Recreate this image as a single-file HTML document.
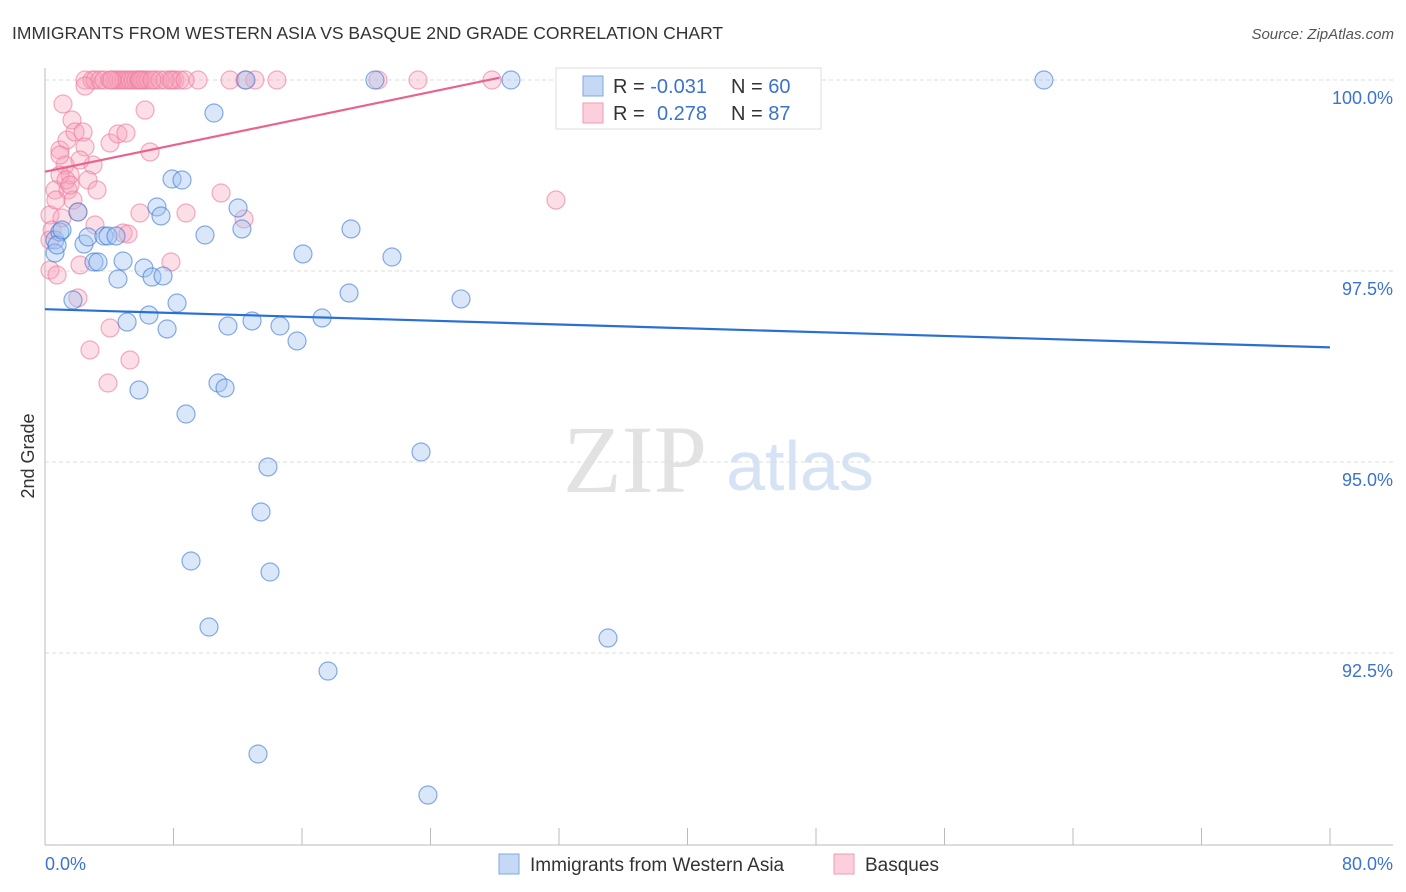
<!DOCTYPE html>
<html><head><meta charset="utf-8"><style>
body{margin:0;background:#fff;font-family:"Liberation Sans",sans-serif;}
svg{display:block}
</style></head><body>
<svg width="1406" height="892">
<text x="12" y="39" font-size="17.5" fill="#333">IMMIGRANTS FROM WESTERN ASIA VS BASQUE 2ND GRADE CORRELATION CHART</text>
<text x="1394" y="39" font-size="15" fill="#555" font-style="italic" text-anchor="end">Source: ZipAtlas.com</text>
<text x="635" y="492" font-size="96" font-family="Liberation Serif,serif" fill="#e2e2e2" text-anchor="middle">ZIP</text>
<text x="800" y="490" font-size="70" fill="#d6e3f5" text-anchor="middle">atlas</text>
<g id="grid"></g>
<line x1="45" y1="68" x2="45" y2="845" stroke="#bbb"/>
<line x1="45" y1="845" x2="1393" y2="845" stroke="#bbb"/>
<g id="xt"></g>
<text x="45" y="870" font-size="18" fill="#3b73d1">0.0%</text>
<text x="1393" y="870" font-size="18" fill="#3b73d1" text-anchor="end">80.0%</text>
<text transform="translate(34,456) rotate(-90)" font-size="18" fill="#333" text-anchor="middle">2nd Grade</text>
<g id="pts"></g>
<g id="lines"></g>
<g>
<rect x="556" y="68" width="265" height="61" fill="#fff" stroke="#ddd"/>
<rect x="583" y="76" width="20" height="20" fill="#c5d9f5" stroke="#7fa8e6"/>
<rect x="583" y="103" width="20" height="20" fill="#fbd0dc" stroke="#f09ab3"/>
<text x="613" y="93" font-size="20" fill="#333">R = <tspan fill="#3b73d1">-0.031</tspan>  <tspan x="731">N = </tspan><tspan fill="#3b73d1">60</tspan></text>
<text x="613" y="120" font-size="20" fill="#333">R = <tspan fill="#3b73d1" x="657">0.278</tspan><tspan x="731">N = </tspan><tspan fill="#3b73d1">87</tspan></text>
</g>
<g>
<rect x="499" y="854" width="20" height="20" fill="#c5d9f5" stroke="#7fa8e6"/>
<text x="530" y="871" font-size="19" fill="#333">Immigrants from Western Asia</text>
<rect x="834" y="854" width="20" height="20" fill="#fbd0dc" stroke="#f09ab3"/>
<text x="865" y="871" font-size="19" fill="#333">Basques</text>
</g>
</svg>
<script>
const yTicks=[100,97.5,95,92.5];
const yTickLabels=["100.0%","97.5%","95.0%","92.5%"];
const blueX=[55,55,60,57,62,73,78,84,88,94,98,104,108,116,118,123,127,139,144,149,152,157,161,163,167,172,177,182,186,191,205,209,214,218,225,228,238,242,246,252,258,261,268,270,280,297,303,322,328,349,351,375,392,421,428,461,511,608,725,1044].map(p=>+((p-45)/16.0625).toFixed(2));
const blueY=[240,253,232,245,230,300,212,244,237,262,262,236,236,236,279,261,322,390,268,315,277,207,216,276,329,179,303,180,414,561,235,627,113,383,388,326,208,229,80,321,754,512,467,572,326,341,254,318,671,293,229,80,257,452,795,299,80,638,80,80].map(p=>+(100-(p-80)/76.4).toFixed(3));
const pinkX=[85,92,95,100,104,115,118,121,124,127,130,133,136,139,142,145,148,155,170,175,180,198,230,245,255,277,378,418,492,578,160,165,172,110,112,140,152,185,85,63,72,60,67,75,83,85,93,80,65,70,60,55,50,52,50,57,68,78,73,88,97,110,118,126,145,150,80,78,90,110,108,130,123,128,140,171,186,221,244,556,66,70,95,60,56,62,50].map(p=>+((p-45)/16.0625).toFixed(2));
const pinkY=[80,80,80,80,80,80,80,80,80,80,80,80,80,80,80,80,80,80,80,80,80,80,80,80,80,80,80,80,80,80,80,80,80,80,80,80,80,80,86,104,120,150,140,132,132,147,165,160,165,175,175,190,215,230,270,275,190,212,200,180,190,143,134,133,110,152,265,298,350,328,383,360,233,234,213,262,213,193,219,200,180,185,225,155,200,218,240].map(p=>+(100-(p-80)/76.4).toFixed(3));
const blueTrend=[[0,97.0],[80,96.5]];
const pinkTrend=[[0,98.8],[28.3,100.03]];
const X=v=>45+v*16.0625, Y=v=>80+(100-v)*76.4;
const NS="http://www.w3.org/2000/svg";
function mk(t,a,p){const e=document.createElementNS(NS,t);for(const k in a)e.setAttribute(k,a[k]);p.appendChild(e);return e;}
const grid=document.getElementById('grid');
yTicks.forEach((t,i)=>{
 const l=mk('line',{x1:45,x2:1393,y1:Y(t),y2:Y(t),stroke:'#ddd','stroke-dasharray':'4,3'},grid);
 
 
 const tx=mk('text',{x:1393,y:Y(t)+24,'font-size':18,fill:'#3b73d1','text-anchor':'end'},grid);
 tx.textContent=yTickLabels[i];
 
 
});
const xt=document.getElementById('xt');
for(let i=0;i<=10;i++){const v=i*8;
 const l=mk('line',{x1:X(v),x2:X(v),y1:828,y2:845,stroke:'#bbb'},xt);
 
 }
const pts=document.getElementById('pts');
pinkX.forEach((x,i)=>{const c=mk('circle',{cx:X(x),cy:Y(pinkY[i]),r:9,fill:'rgba(245,160,185,0.35)',stroke:'rgba(236,120,155,0.6)','stroke-width':1.2},pts);
 
 });
blueX.forEach((x,i)=>{const c=mk('circle',{cx:X(x),cy:Y(blueY[i]),r:9,fill:'rgba(160,195,240,0.4)',stroke:'rgba(60,120,215,0.6)','stroke-width':1.2},pts);
 
 });
const lines=document.getElementById('lines');
const bl=mk('line',{x1:X(blueTrend[0][0]),y1:Y(blueTrend[0][1]),x2:X(blueTrend[1][0]),y2:Y(blueTrend[1][1]),stroke:'#2a6fd6','stroke-width':2.2},lines);


const pl=mk('line',{x1:X(pinkTrend[0][0]),y1:Y(pinkTrend[0][1]),x2:X(pinkTrend[1][0]),y2:Y(pinkTrend[1][1]),stroke:'#e8648e','stroke-width':2.2},lines);


</script>
</body></html>
